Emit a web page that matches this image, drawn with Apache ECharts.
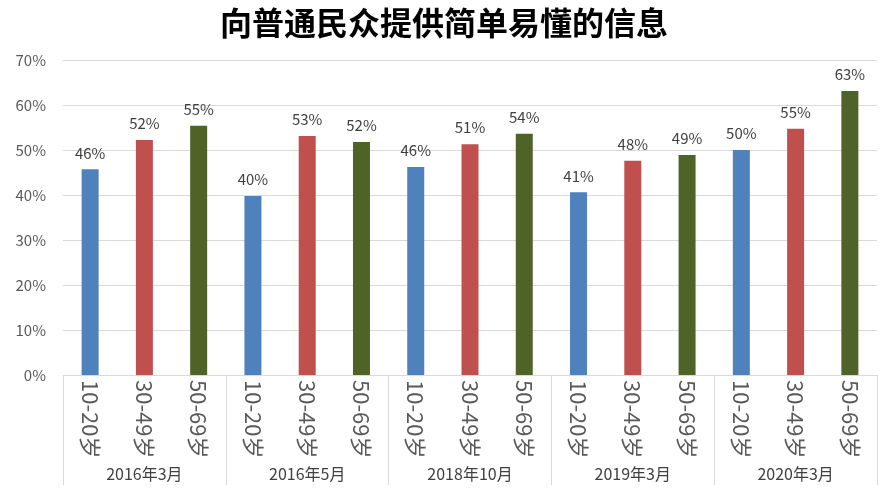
<!DOCTYPE html>
<html>
<head>
<meta charset="utf-8">
<script src="https://cdn.jsdelivr.net/npm/echarts@6/dist/echarts.min.js"></script>
<style>html,body{margin:0;padding:0;background:#fff}#c{width:888px;height:498px}</style>
</head>
<body>
<div id="c"></div>
<script>
var title = '向普通民众提供简单易懂的信息';
var groups = ['2016年3月', '2016年5月', '2018年10月', '2019年3月', '2020年3月'];
var ages = ['10-20岁', '30-49岁', '50-69岁'];
var v1020 = [45.7, 39.8, 46.2, 40.6, 50.0];
var v3049 = [52.2, 53.1, 51.3, 47.6, 54.7];
var v5069 = [55.4, 51.8, 53.6, 48.9, 63.1];
var yTicks = [0, 10, 20, 30, 40, 50, 60, 70];
var colors = ['#4f81bd', '#c0504d', '#4f6228'];

var byAge = [v1020, v3049, v5069];
var cats = [], vals = [];
for (var g = 0; g < groups.length; g++) {
  for (var a = 0; a < ages.length; a++) {
    cats.push(ages[a]);
    vals.push({ value: byAge[a][g], itemStyle: { color: colors[a] } });
  }
}
var font = '"Noto Sans CJK SC", "Open Sans", sans-serif';
var chart = echarts.init(document.getElementById('c'));
chart.setOption({
  animation: false,
  title: {
    text: title, left: 'center', top: 2,
    textStyle: { fontFamily: font, fontSize: 32, fontWeight: 'bold', color: '#000' }
  },
  grid: { left: 63, right: 11, top: 60, bottom: 123 },
  xAxis: [{
    type: 'category', data: cats, position: 'bottom',
    axisLine: { lineStyle: { color: '#d9d9d9' } },
    axisTick: { show: false },
    axisLabel: { rotate: -90, margin: 5, fontSize: 22, color: '#595959', fontFamily: font, interval: 0 }
  }, {
    type: 'category', data: groups, position: 'bottom',
    axisLine: { show: false },
    axisTick: { show: true, length: 110, lineStyle: { color: '#d9d9d9' } },
    axisLabel: { margin: 91, fontSize: 16, color: '#404040', fontFamily: font, interval: 0 }
  }],
  yAxis: {
    type: 'value', min: 0, max: 70, interval: 10,
    axisLine: { show: false }, axisTick: { show: false },
    splitLine: { lineStyle: { color: '#d9d9d9' } },
    axisLabel: { margin: 17, fontSize: 15, color: '#595959', fontFamily: font,
      formatter: function (v) { return yTicks.indexOf(v) >= 0 ? v + '%' : ''; } }
  },
  series: [{
    type: 'bar', xAxisIndex: 0, data: vals, barWidth: 17,
    label: { show: true, position: 'top', distance: 9, fontSize: 15, color: '#404040', fontFamily: font,
      formatter: function (p) { return Math.round(p.value) + '%'; } }
  }]
});
</script>
</body>
</html>
